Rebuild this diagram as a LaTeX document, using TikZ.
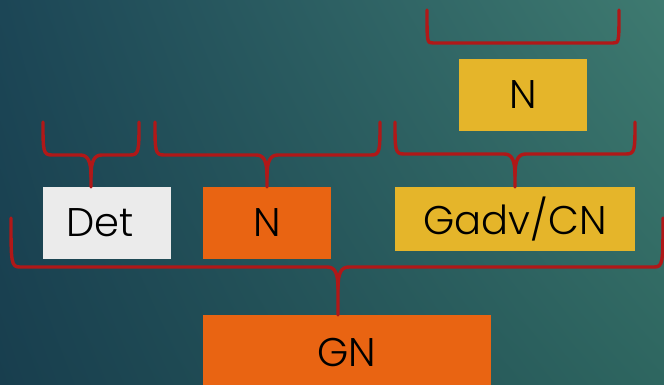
\documentclass[tikz,border=0pt]{standalone}
\usepackage{fontspec}
\setmainfont{Poppins}[UprightFont=* Light]
\usetikzlibrary{calc,shadings}
\definecolor{brred}{HTML}{B01818}
\definecolor{orng}{HTML}{E96412}
\definecolor{yell}{HTML}{E5B52A}
\definecolor{lgray}{HTML}{EBEBEB}
\definecolor{bgul}{RGB}{28,70,86}
\definecolor{bgur}{RGB}{62,122,112}
\definecolor{bgll}{RGB}{24,62,78}
\definecolor{bglr}{RGB}{46,102,96}
\tikzset{
  box/.style={rectangle, inner sep=0pt, font=\fontsize{40}{42}\selectfont, text=black},
  brc/.style={draw=brred, line width=3.4pt, line cap=round, line join=round},
}
% #1 left x, #2 right x, #3 top y, #4 bar y, #5 tip x, #6 bottom y
\newcommand\mybrace[6]{%
  \draw[brc] (#1,#3) .. controls (#1,#4-4) and (#1,#4) .. (#1+9,#4) -- (#5-11,#4)
     .. controls (#5-3,#4) and (#5,#4+6) .. (#5,#4+22) -- (#5,#6);
  \draw[brc] (#2,#3) .. controls (#2,#4-4) and (#2,#4) .. (#2-9,#4) -- (#5+11,#4)
     .. controls (#5+3,#4) and (#5,#4+6) .. (#5,#4+22);
}
\begin{document}
\begin{tikzpicture}[x=1pt,y=-1pt]
\useasboundingbox (0,0) rectangle (664,385);
\clip (0,0) rectangle (664,385);
\shade[upper left=bgul, upper right=bgur, lower left=bgll, lower right=bglr]
  (0,0) rectangle (664,385);
% boxes
\node[box, fill=lgray, minimum width=128pt, minimum height=72pt] (det) at (107,223) {\hspace*{-14pt}Det};
\node[box, fill=orng, minimum width=128pt, minimum height=72pt] (n1) at (267,223) {N};
\node[box, fill=yell, minimum width=240pt, minimum height=64pt] (gadv) at (515,219) {Gadv/CN};
\node[box, fill=yell, minimum width=128pt, minimum height=72pt] (ntop) at (523,95) {N};
\node[box, fill=orng, minimum width=288pt, minimum height=80pt, text depth=0pt] (gn) at (347,355) {\raisebox{5pt}{GN}};
% top bracket (no tip)
\draw[brc] (427,10) .. controls (427,43) and (427,43) .. (433,43) -- (613,43)
   .. controls (619,43) and (619,43) .. (619,10);
% braces
\mybrace{43}{139}{122}{155}{91}{187}
\mybrace{155}{380}{122}{155}{267}{187}
\mybrace{395}{635}{122}{154}{515}{187}
\mybrace{11}{663}{218}{267}{338}{315}
\end{tikzpicture}
\end{document}
